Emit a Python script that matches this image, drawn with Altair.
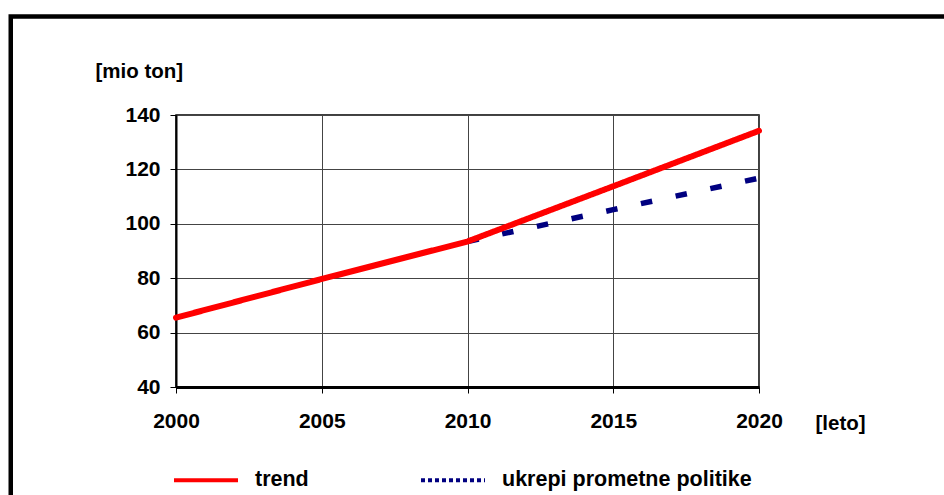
import altair as alt
import pandas as pd

# Freight volume projections, million tonnes
years_trend = [2000, 2005, 2010, 2015, 2020]
trend = [65.5, 79.7, 93.5, 113.8, 134.2]
years_measures = [2010, 2015, 2020]
measures = [93.5, 105.2, 116.8]
series_names = ["trend", "ukrepi prometne politike"]
series_colors = ["#ff0000", "#000080"]
x_ticks = [2000, 2005, 2010, 2015, 2020]
y_ticks = [40, 60, 80, 100, 120, 140]

df = pd.concat([
    pd.DataFrame({"leto": years_trend, "vrednost": trend, "serija": series_names[0]}),
    pd.DataFrame({"leto": years_measures, "vrednost": measures, "serija": series_names[1]}),
], ignore_index=True)

FONT = "Liberation Sans"
W, H = 583, 272
PAD = {"left": 176, "top": 115, "right": 185, "bottom": 108}

x_enc = alt.X(
    "leto:Q",
    scale=alt.Scale(domain=[2000, 2020], nice=False, zero=False),
    axis=alt.Axis(
        values=x_ticks, format="d", title="[leto]", titleAngle=0,
        titleAlign="left", titleBaseline="alphabetic", titleX=639, titleY=42,
        titleFontSize=20.5, labelPadding=17, labelFlush=False, tickSize=6,
        domainWidth=3,
    ),
)
y_enc = alt.Y(
    "vrednost:Q",
    scale=alt.Scale(domain=[40, 140], nice=False, zero=False),
    axis=alt.Axis(
        values=y_ticks, title="[mio ton]", titleAngle=0, titleAlign="left",
        titleBaseline="alphabetic", titleX=-81, titleY=-38,
        labelPadding=10, tickSize=6, domainWidth=2,
    ),
)

legend = alt.Legend(
    orient="none", direction="horizontal", legendX=-4, legendY=331,
    title=None, symbolSize=4096, symbolStrokeWidth=4, labelOffset=15,
    columnPadding=104, labelFontSize=21.5, labelFont=FONT,
    labelFontWeight="bold", labelColor="black", labelLimit=400, padding=0,
)
color_enc = alt.Color(
    "serija:N",
    scale=alt.Scale(domain=series_names, range=series_colors),
    legend=legend,
)
dash_enc = alt.StrokeDash(
    "serija:N",
    scale=alt.Scale(domain=series_names, range=[[1, 0], [4, 3]]),
    legend=legend,
)

base = alt.Chart(df)

measures_line = base.transform_filter(
    alt.datum.serija == series_names[1]
).mark_line(strokeWidth=5.5, strokeDash=[11.5, 24]).encode(
    x=x_enc, y=y_enc, color=color_enc
)

trend_line = base.transform_filter(
    alt.datum.serija == series_names[0]
).mark_line(strokeWidth=6, strokeCap="round").encode(
    x=x_enc, y=y_enc, color=color_enc, strokeDash=dash_enc
)

# outer frame around the whole figure
frame = alt.Chart(pd.DataFrame({"k": [0]})).mark_rect(
    fill="transparent", stroke="black", strokeWidth=4.5, clip=False
).encode(
    x=alt.value(10.75 - PAD["left"]),
    y=alt.value(16.5 - PAD["top"]),
    x2=alt.value(944 - PAD["left"] + 20),
    y2=alt.value(495 - PAD["top"] + 20),
)

chart = alt.layer(frame, measures_line, trend_line).properties(
    width=W, height=H,
    autosize=alt.AutoSizeParams(type="none"),
    padding=PAD,
    background="white",
).configure_view(
    stroke="black", strokeWidth=1.5
).configure_axis(
    labelFont=FONT, labelFontSize=21, labelFontWeight="bold", labelColor="black",
    titleFont=FONT, titleFontSize=20.5, titleFontWeight="bold", titleColor="black",
    domainColor="black", tickColor="black", tickWidth=1,
    grid=True, gridColor="#444", gridWidth=1,
)

chart.save("out.html", embed_options={"renderer": "svg", "actions": False})
